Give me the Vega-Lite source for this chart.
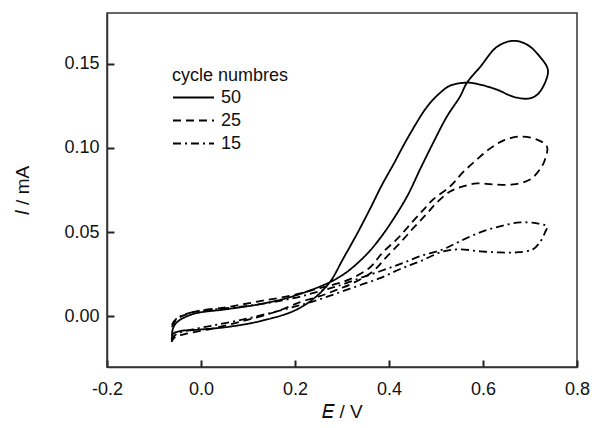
{
  "$schema": "https://vega.github.io/schema/vega-lite/v6.json",
  "width": 470,
  "height": 354,
  "autosize": {"type": "none"},
  "padding": {"left": 107, "top": 13, "right": 15, "bottom": 61},
  "background": "white",
  "config": {
    "font": "Liberation Sans",
    "view": {"stroke": "#333", "strokeWidth": 1.5},
    "axis": {"grid": false, "labelFlush": false, "labelColor": "#111", "titleColor": "#111", "labelFontSize": 18, "titleFontSize": 19, "titleFontWeight": "normal"}
  },
  "data": {"values": [
    {"c":"50","i":1,"E":-0.062,"I":-0.0152},
    {"c":"50","i":2,"E":-0.060,"I":-0.0105},
    {"c":"50","i":3,"E":-0.045,"I":-0.0087},
    {"c":"50","i":4,"E":-0.017,"I":-0.0081},
    {"c":"50","i":5,"E":0.055,"I":-0.0063},
    {"c":"50","i":6,"E":0.126,"I":-0.0028},
    {"c":"50","i":7,"E":0.196,"I":0.0031},
    {"c":"50","i":8,"E":0.238,"I":0.0102},
    {"c":"50","i":9,"E":0.274,"I":0.0203},
    {"c":"50","i":10,"E":0.302,"I":0.0340},
    {"c":"50","i":11,"E":0.332,"I":0.0490},
    {"c":"50","i":12,"E":0.360,"I":0.0640},
    {"c":"50","i":13,"E":0.385,"I":0.0780},
    {"c":"50","i":14,"E":0.409,"I":0.0900},
    {"c":"50","i":15,"E":0.438,"I":0.1050},
    {"c":"50","i":16,"E":0.481,"I":0.1244},
    {"c":"50","i":17,"E":0.509,"I":0.1327},
    {"c":"50","i":18,"E":0.530,"I":0.1369},
    {"c":"50","i":19,"E":0.566,"I":0.1387},
    {"c":"50","i":20,"E":0.594,"I":0.1375},
    {"c":"50","i":21,"E":0.630,"I":0.1345},
    {"c":"50","i":22,"E":0.664,"I":0.1304},
    {"c":"50","i":23,"E":0.696,"I":0.1292},
    {"c":"50","i":24,"E":0.715,"I":0.1315},
    {"c":"50","i":25,"E":0.732,"I":0.1387},
    {"c":"50","i":26,"E":0.738,"I":0.1464},
    {"c":"50","i":27,"E":0.721,"I":0.1541},
    {"c":"50","i":28,"E":0.694,"I":0.1612},
    {"c":"50","i":29,"E":0.664,"I":0.1635},
    {"c":"50","i":30,"E":0.630,"I":0.1600},
    {"c":"50","i":31,"E":0.594,"I":0.1480},
    {"c":"50","i":32,"E":0.566,"I":0.1387},
    {"c":"50","i":33,"E":0.551,"I":0.1304},
    {"c":"50","i":34,"E":0.523,"I":0.1185},
    {"c":"50","i":35,"E":0.494,"I":0.1030},
    {"c":"50","i":36,"E":0.466,"I":0.0872},
    {"c":"50","i":37,"E":0.440,"I":0.0720},
    {"c":"50","i":38,"E":0.409,"I":0.0576},
    {"c":"50","i":39,"E":0.380,"I":0.0460},
    {"c":"50","i":40,"E":0.353,"I":0.0370},
    {"c":"50","i":41,"E":0.311,"I":0.0265},
    {"c":"50","i":42,"E":0.274,"I":0.0203},
    {"c":"50","i":43,"E":0.196,"I":0.0120},
    {"c":"50","i":44,"E":0.126,"I":0.0073},
    {"c":"50","i":45,"E":0.055,"I":0.0043},
    {"c":"50","i":46,"E":-0.017,"I":0.0014},
    {"c":"50","i":47,"E":-0.051,"I":-0.0034},
    {"c":"50","i":48,"E":-0.060,"I":-0.0075},
    {"c":"50","i":49,"E":-0.062,"I":-0.0152},

    {"c":"25","i":1,"E":-0.062,"I":-0.0064},
    {"c":"25","i":2,"E":-0.051,"I":-0.0016},
    {"c":"25","i":3,"E":-0.017,"I":0.0025},
    {"c":"25","i":4,"E":0.055,"I":0.0055},
    {"c":"25","i":5,"E":0.126,"I":0.0091},
    {"c":"25","i":6,"E":0.196,"I":0.0126},
    {"c":"25","i":7,"E":0.253,"I":0.0168},
    {"c":"25","i":8,"E":0.285,"I":0.0191},
    {"c":"25","i":9,"E":0.317,"I":0.0221},
    {"c":"25","i":10,"E":0.360,"I":0.0292},
    {"c":"25","i":11,"E":0.387,"I":0.0381},
    {"c":"25","i":12,"E":0.417,"I":0.0458},
    {"c":"25","i":13,"E":0.445,"I":0.0546},
    {"c":"25","i":14,"E":0.472,"I":0.0629},
    {"c":"25","i":15,"E":0.494,"I":0.0694},
    {"c":"25","i":16,"E":0.530,"I":0.0771},
    {"c":"25","i":17,"E":0.557,"I":0.0854},
    {"c":"25","i":18,"E":0.587,"I":0.0931},
    {"c":"25","i":19,"E":0.615,"I":0.0996},
    {"c":"25","i":20,"E":0.643,"I":0.1043},
    {"c":"25","i":21,"E":0.679,"I":0.1067},
    {"c":"25","i":22,"E":0.715,"I":0.1049},
    {"c":"25","i":23,"E":0.736,"I":0.1008},
    {"c":"25","i":24,"E":0.732,"I":0.0931},
    {"c":"25","i":25,"E":0.721,"I":0.0872},
    {"c":"25","i":26,"E":0.700,"I":0.0812},
    {"c":"25","i":27,"E":0.664,"I":0.0783},
    {"c":"25","i":28,"E":0.621,"I":0.0783},
    {"c":"25","i":29,"E":0.587,"I":0.0789},
    {"c":"25","i":30,"E":0.557,"I":0.0771},
    {"c":"25","i":31,"E":0.530,"I":0.0741},
    {"c":"25","i":32,"E":0.500,"I":0.0670},
    {"c":"25","i":33,"E":0.479,"I":0.0605},
    {"c":"25","i":34,"E":0.451,"I":0.0522},
    {"c":"25","i":35,"E":0.423,"I":0.0434},
    {"c":"25","i":36,"E":0.394,"I":0.0351},
    {"c":"25","i":37,"E":0.366,"I":0.0268},
    {"c":"25","i":38,"E":0.323,"I":0.0197},
    {"c":"25","i":39,"E":0.287,"I":0.0156},
    {"c":"25","i":40,"E":0.253,"I":0.0120},
    {"c":"25","i":41,"E":0.211,"I":0.0085},
    {"c":"25","i":42,"E":0.162,"I":0.0031},
    {"c":"25","i":43,"E":0.089,"I":-0.0028},
    {"c":"25","i":44,"E":0.019,"I":-0.0075},
    {"c":"25","i":45,"E":-0.034,"I":-0.0105},
    {"c":"25","i":46,"E":-0.055,"I":-0.0122},
    {"c":"25","i":47,"E":-0.062,"I":-0.0146},

    {"c":"15","i":1,"E":-0.062,"I":-0.0050},
    {"c":"15","i":2,"E":-0.051,"I":-0.0010},
    {"c":"15","i":3,"E":-0.017,"I":0.0025},
    {"c":"15","i":4,"E":0.055,"I":0.0049},
    {"c":"15","i":5,"E":0.126,"I":0.0073},
    {"c":"15","i":6,"E":0.196,"I":0.0108},
    {"c":"15","i":7,"E":0.253,"I":0.0150},
    {"c":"15","i":8,"E":0.296,"I":0.0185},
    {"c":"15","i":9,"E":0.338,"I":0.0227},
    {"c":"15","i":10,"E":0.381,"I":0.0268},
    {"c":"15","i":11,"E":0.423,"I":0.0310},
    {"c":"15","i":12,"E":0.466,"I":0.0357},
    {"c":"15","i":13,"E":0.515,"I":0.0398},
    {"c":"15","i":14,"E":0.551,"I":0.0446},
    {"c":"15","i":15,"E":0.594,"I":0.0499},
    {"c":"15","i":16,"E":0.636,"I":0.0534},
    {"c":"15","i":17,"E":0.679,"I":0.0558},
    {"c":"15","i":18,"E":0.715,"I":0.0552},
    {"c":"15","i":19,"E":0.736,"I":0.0534},
    {"c":"15","i":20,"E":0.732,"I":0.0499},
    {"c":"15","i":21,"E":0.721,"I":0.0440},
    {"c":"15","i":22,"E":0.706,"I":0.0398},
    {"c":"15","i":23,"E":0.672,"I":0.0380},
    {"c":"15","i":24,"E":0.636,"I":0.0380},
    {"c":"15","i":25,"E":0.594,"I":0.0386},
    {"c":"15","i":26,"E":0.551,"I":0.0398},
    {"c":"15","i":27,"E":0.515,"I":0.0385},
    {"c":"15","i":28,"E":0.466,"I":0.0327},
    {"c":"15","i":29,"E":0.423,"I":0.0280},
    {"c":"15","i":30,"E":0.381,"I":0.0227},
    {"c":"15","i":31,"E":0.338,"I":0.0185},
    {"c":"15","i":32,"E":0.296,"I":0.0144},
    {"c":"15","i":33,"E":0.253,"I":0.0102},
    {"c":"15","i":34,"E":0.211,"I":0.0067},
    {"c":"15","i":35,"E":0.147,"I":0.0020},
    {"c":"15","i":36,"E":0.083,"I":-0.0022},
    {"c":"15","i":37,"E":0.019,"I":-0.0057},
    {"c":"15","i":38,"E":-0.034,"I":-0.0087},
    {"c":"15","i":39,"E":-0.055,"I":-0.0110},
    {"c":"15","i":40,"E":-0.062,"I":-0.0134}
  ]},
  "mark": {"type": "line", "interpolate": "catmull-rom", "strokeWidth": 1.8, "color": "black"},
  "encoding": {
    "x": {"field": "E", "type": "quantitative", "scale": {"domain": [-0.2, 0.8], "nice": false, "zero": false},
      "axis": {"values": [-0.2, 0, 0.2, 0.4, 0.6, 0.8], "labelExpr": "replace(format(datum.value, '.1f'), '\u2212', '-')", "ticks": true, "tickSize": -7, "tickWidth": 2, "tickColor": "#222", "domainColor": "#333", "domainWidth": 1.5, "labelPadding": 20, "title": "𝐸 / V", "titleY": 50, "titleBaseline": "alphabetic"}},
    "y": {"field": "I", "type": "quantitative", "scale": {"domain": [-0.03, 0.18], "nice": false, "zero": false},
      "axis": {"values": [0, 0.05, 0.1, 0.15], "format": ".2f", "ticks": true, "tickSize": -7, "tickWidth": 2, "tickColor": "#222", "domainColor": "#333", "domainWidth": 1.5, "labelPadding": 15, "title": "𝐼 / mA", "titleX": -85, "titleY": 177, "titleAlign": "center", "titleBaseline": "middle"}},
    "order": {"field": "i", "type": "quantitative"},
    "detail": {"field": "c", "type": "nominal"},
    "strokeDash": {"field": "c", "type": "nominal",
      "scale": {"domain": ["50", "25", "15"], "range": [[1, 0], [8, 5], [8, 4, 2, 4]]},
      "legend": {"orient": "none", "legendX": 65, "legendY": 54, "title": "cycle numbres", "titleFontSize": 18, "titleFontWeight": "normal", "titleColor": "#111", "titlePadding": 2, "labelFontSize": 18, "labelColor": "#111", "symbolType": "stroke", "symbolSize": 1681, "symbolStrokeWidth": 1.8, "symbolStrokeColor": "black", "clipHeight": 21, "rowPadding": 2, "labelOffset": 6, "padding": 0}}
  }
}
